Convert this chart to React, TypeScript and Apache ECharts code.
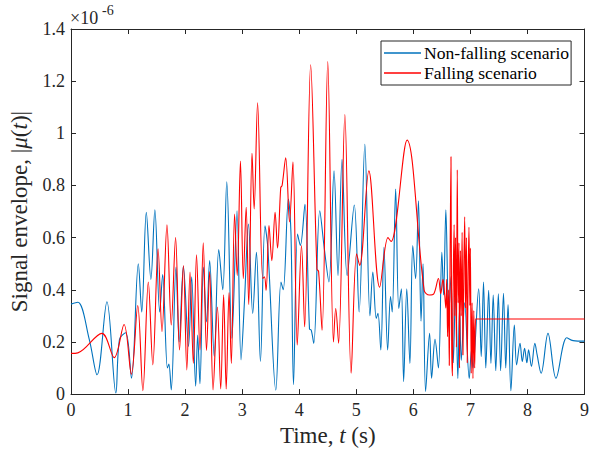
import React, { useEffect, useRef } from "react";
import * as echarts from "echarts";

// Time axis ticks (s) and envelope ticks (x 1e-6)
const xTicks = [0, 1, 2, 3, 4, 5, 6, 7, 8, 9];
const yTicks = [0, 0.2, 0.4, 0.6, 0.8, 1, 1.2, 1.4];

const seriesNames = ["Non-falling scenario", "Falling scenario"];

// Non-falling scenario (blue), envelope in units of 1e-6
const nonFallingTime = [
  0, 0.12, 0.32, 0.457, 0.63, 0.786, 0.85, 0.96, 1.06, 1.18, 1.24, 1.32, 1.4, 1.47, 1.555, 1.607,
  1.69, 1.715, 1.757, 1.84, 1.896, 1.97, 2.06, 2.115, 2.185, 2.22, 2.26, 2.32, 2.375, 2.43, 2.51,
  2.59, 2.66, 2.73, 2.82, 2.91, 2.98, 3.04, 3.11, 3.185, 3.25, 3.32, 3.4, 3.45, 3.59, 3.68, 3.72,
  3.81, 3.855, 3.9, 3.97, 4.02, 4.1, 4.18, 4.21, 4.255, 4.36, 4.44, 4.52, 4.61, 4.68, 4.75, 4.84,
  4.965, 5.05, 5.15, 5.24, 5.29, 5.35, 5.38, 5.43, 5.485, 5.55, 5.6, 5.63, 5.69, 5.745, 5.79, 5.83,
  5.885, 5.94, 5.99, 6.04, 6.09, 6.135, 6.17, 6.215, 6.285, 6.32, 6.38, 6.44, 6.5, 6.53, 6.57, 6.62,
  6.66, 6.7, 6.74, 6.78, 6.81, 6.84, 6.9, 6.98, 7.02, 7.045, 7.145, 7.19, 7.23, 7.27, 7.32, 7.36,
  7.4, 7.445, 7.49, 7.53, 7.58, 7.62, 7.66, 7.71, 7.77, 7.81, 7.87, 7.91, 7.95, 7.99, 8.02, 8.07,
  8.13, 8.17, 8.24, 8.36, 8.5, 8.69, 8.8, 9,
];
const nonFallingEnvelope = [
  0.345, 0.352, 0.21, 0.074, 0.354, 0.004, 0.21, 0.235, 0.061, 0.5, 0.315, 0.697, 0.44, 0.707, 0.315, 0.458,
  0.1, 0.115, 0.016, 0.487, 0.2, 0.49, 0.183, 0.45, 0.03, 0.226, 0.04, 0.487, 0.277, 0.512, 0.144,
  0.554, 0.4, 0.814, 0.214, 0.703, 0.131, 0.354, 0.652, 0.309, 0.544, 0.125, 0.645, 0.56, 0.015, 0.43, 0.4,
  0.748, 0.62, 0.036, 0.614, 0.57, 0.728, 0.25, 0.245, 0.195, 0.703, 0.557, 0.43, 0.856, 0.455, 0.9, 0.455,
  0.725, 0.315, 0.958, 0.3, 0.468, 0.29, 0.31, 0.169, 0.563, 0.169, 0.374, 0.315, 0.786, 0.328, 0.404, 0.048,
  0.404, 0.118, 0.57, 0.443, 0.741, 0.28, 0.5, 0.01, 0.233, 0.061, 0.21, 0.1, 0.544, 0.38, 0.707, 0.3,
  0.45, 0.12, 0.4, 0.06, 0.33, 0.13, 0.35, 0.06, 0.17, 0.1, 0.404, 0.144, 0.43, 0.1, 0.398, 0.118,
  0.38, 0.09, 0.385, 0.09, 0.387, 0.1, 0.343, 0.013, 0.265, 0.112, 0.195, 0.125, 0.176, 0.12, 0.17, 0.106,
  0.195, 0.15, 0.08, 0.233, 0.061, 0.216, 0.205, 0.203,
];

// Falling scenario (red), envelope in units of 1e-6
const fallingTime = [
  0, 0.12, 0.543, 0.757, 0.93, 1.058, 1.17, 1.26, 1.355, 1.434, 1.526, 1.595, 1.682, 1.757, 1.833, 1.902,
  1.97, 2.03, 2.086, 2.144, 2.2, 2.26, 2.318, 2.375, 2.43, 2.49, 2.566, 2.624, 2.675, 2.72, 2.77, 2.81,
  2.867, 2.913, 2.97, 3.02, 3.07, 3.115, 3.173, 3.21, 3.27, 3.36, 3.39, 3.42, 3.47, 3.52, 3.577, 3.62,
  3.676, 3.7, 3.763, 3.83, 3.89, 3.965, 4.04, 4.095, 4.2, 4.31, 4.34, 4.4, 4.5, 4.6, 4.64, 4.69,
  4.8, 4.91, 5.005, 5.06, 5.22, 5.41, 5.555, 5.61, 5.89, 6.19, 6.28, 6.36, 6.44, 6.48, 6.52, 6.55,
  6.57, 6.585, 6.6, 6.615, 6.63, 6.645, 6.66, 6.672, 6.685, 6.7, 6.715, 6.725, 6.74, 6.755, 6.77, 6.785,
  6.8, 6.81, 6.825, 6.84, 6.855, 6.87, 6.885, 6.9, 6.915, 6.93, 6.945, 6.96, 6.975, 6.99, 7.0, 7.015,
  7.03, 7.045, 7.06, 7.075, 7.09, 7.1, 9,
];
const fallingEnvelope = [
  0.156, 0.158, 0.233, 0.14, 0.267, 0.076, 0.34, 0.013, 0.43, 0.112, 0.557, 0.239, 0.649, 0.265, 0.6, 0.169,
  0.493, 0.093, 0.468, 0.118, 0.534, 0.169, 0.58, 0.167, 0.47, 0.016, 0.334, 0.02, 0.381, 0.02, 0.389, 0.118,
  0.69, 0.455, 0.894, 0.443, 0.716, 0.343, 0.923, 0.71, 1.117, 0.443, 0.45, 0.398, 0.646, 0.512, 0.697, 0.56,
  0.792, 0.8, 0.906, 0.66, 0.89, 0.188, 0.57, 0.258, 1.263, 0.48, 0.47, 0.245, 1.275, 0.2, 0.328, 0.195,
  1.072, 0.08, 0.538, 0.493, 0.856, 0.41, 0.6, 0.585, 0.974, 0.398, 0.38, 0.385, 0.443, 0.385, 0.44, 0.38,
  0.33, 0.44, 0.22, 0.4, 0.11, 0.55, 0.91, 0.2, 0.07, 0.45, 0.65, 0.3, 0.6, 0.18, 0.86, 0.35,
  0.58, 0.1, 0.55, 0.3, 0.62, 0.15, 0.48, 0.68, 0.33, 0.6, 0.12, 0.45, 0.64, 0.34, 0.56, 0.08,
  0.35, 0.06, 0.32, 0.1, 0.288, 0.288, 0.288,
];

const FONT = "Liberation Serif";
const TXT = "#262626";
const AX = "#262626";

const serif = (size: number, extra: Record<string, unknown> = {}) => ({
  fontFamily: FONT,
  fontSize: size,
  color: TXT,
  ...extra,
});

export default function App() {
  const ref = useRef<HTMLDivElement>(null);

  useEffect(() => {
    if (!ref.current) return;
    const chart = echarts.init(ref.current, null, { renderer: "svg" });

    const blue = nonFallingTime.map((t, i) => [t, nonFallingEnvelope[i]]);
    const red = fallingTime.map((t, i) => [t, fallingEnvelope[i]]);

    const baseX = {
      type: "value" as const,
      min: xTicks[0],
      max: xTicks[xTicks.length - 1],
      interval: 1,
      splitLine: { show: false },
      axisLine: { show: true, onZero: false, lineStyle: { color: AX, width: 1 } },
      axisTick: { show: true, inside: true, length: 5, lineStyle: { color: AX } },
    };
    const baseY = {
      type: "value" as const,
      min: yTicks[0],
      max: yTicks[yTicks.length - 1],
      interval: 0.2,
      splitLine: { show: false },
      axisLine: { show: true, onZero: false, lineStyle: { color: AX, width: 1 } },
      axisTick: { show: true, inside: true, length: 5, lineStyle: { color: AX } },
    };

    chart.setOption({
      animation: false,
      backgroundColor: "#ffffff",
      textStyle: { fontFamily: FONT },
      grid: { left: 68, top: 29, right: 5, bottom: 56, containLabel: false },
      xAxis: [
        {
          ...baseX,
          position: "bottom",
          axisLabel: {
            margin: 7,
            formatter: (v: number) => `{a|${v}}`,
            rich: { a: serif(18) },
          },
          name: "{n|Time, }{i|t}{n| (s)}",
          nameLocation: "middle",
          nameGap: 28,
          nameTextStyle: {
            rich: { n: serif(23), i: serif(23, { fontStyle: "italic" }) },
          },
        },
        { ...baseX, position: "top", axisLabel: { show: false } },
      ],
      yAxis: [
        {
          ...baseY,
          position: "left",
          axisLabel: {
            margin: 6,
            formatter: (v: number) => `{a|${Math.round(v * 10) / 10}}`,
            rich: { a: serif(18) },
          },
          name: "{n|Signal envelope, |}{i|μ}{n|(}{i|t}{n|)|}",
          nameLocation: "middle",
          nameGap: 40,
          nameTextStyle: {
            rich: { n: serif(23), i: serif(23, { fontStyle: "italic" }) },
          },
        },
        { ...baseY, position: "right", axisLabel: { show: false } },
      ],
      legend: {
        orient: "vertical",
        left: 381,
        top: 41,
        padding: [3, 2, 3, 3],
        itemGap: 2,
        itemWidth: 37,
        itemHeight: 1.3,
        icon: "rect",
        backgroundColor: "#ffffff",
        borderColor: AX,
        borderWidth: 1,
        borderRadius: 0,
        formatter: (name: string) => `{a|${name}}`,
        textStyle: {
          padding: [0, 0, 0, -2],
          rich: { a: { fontFamily: FONT, fontSize: 17.6, color: "#000", lineHeight: 19 } },
        },
        data: seriesNames,
      },
      graphic: [
        {
          type: "text",
          left: 70,
          top: 9,
          style: { text: "{a|×10}", rich: { a: { fontFamily: FONT, fontSize: 18, fill: TXT } } },
        },
        {
          type: "text",
          left: 102,
          top: 3,
          style: { text: "{a|-6}", rich: { a: { fontFamily: FONT, fontSize: 14, fill: TXT } } },
        },
      ],
      series: [
        {
          name: seriesNames[0],
          type: "line",
          data: blue,
          symbol: "none",
          smooth: 0.35,
          lineStyle: { color: "#0072BD", width: 1.1 },
          itemStyle: { color: "#0072BD" },
          z: 2,
        },
        {
          name: seriesNames[1],
          type: "line",
          data: red,
          symbol: "none",
          smooth: 0.35,
          lineStyle: { color: "#FF0000", width: 1.1 },
          itemStyle: { color: "#FF0000" },
          z: 3,
        },
      ],
    });

    return () => chart.dispose();
  }, []);

  return <div ref={ref} style={{ width: 592, height: 452, position: "absolute", left: 0, top: 0 }} />;
}
